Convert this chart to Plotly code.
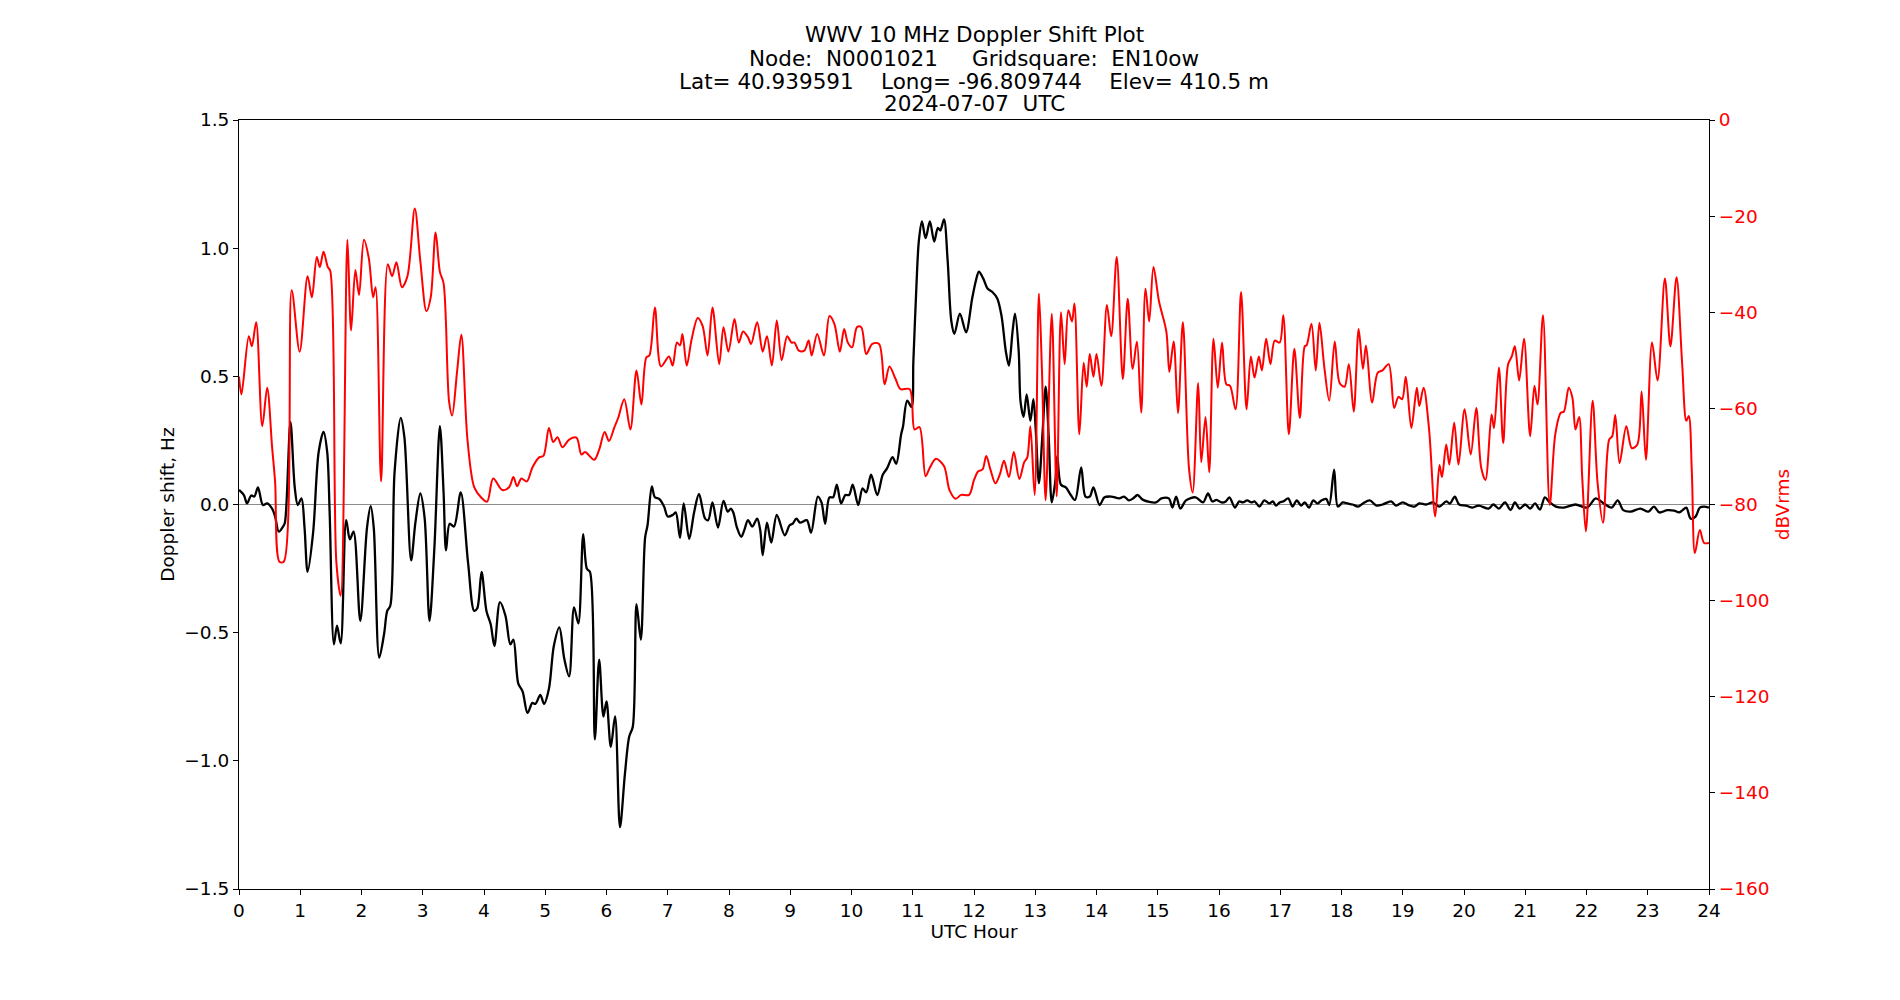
import plotly.graph_objects as go

# ---------------- data ----------------
doppler_hour = [
    0.00, 0.08, 0.13, 0.20, 0.25, 0.31, 0.39, 0.46, 0.54, 0.59, 0.65, 0.72, 0.75, 0.84, 0.91, 0.96,
    1.02, 1.07, 1.12, 1.21, 1.30, 1.38, 1.44, 1.48, 1.55, 1.60, 1.66, 1.75, 1.81, 1.87, 1.98,
    2.09, 2.15, 2.20, 2.29, 2.37, 2.42, 2.47, 2.54, 2.64, 2.70, 2.81, 2.88, 2.96,
    3.03, 3.11, 3.19, 3.28, 3.34, 3.38, 3.44, 3.51, 3.62, 3.74, 3.84, 3.89, 3.96,
    4.04, 4.11, 4.17, 4.26, 4.35, 4.43, 4.48, 4.56, 4.63, 4.71, 4.79, 4.84, 4.92, 4.98,
    5.06, 5.14, 5.23, 5.31, 5.39, 5.47, 5.54, 5.62, 5.68, 5.73, 5.81, 5.88, 5.95,
    6.00, 6.07, 6.14, 6.22, 6.30, 6.37, 6.43, 6.49, 6.56, 6.63, 6.67, 6.74, 6.79, 6.86, 6.94,
    7.00, 7.08, 7.13, 7.20, 7.26, 7.35, 7.43, 7.51, 7.61, 7.66, 7.73, 7.82, 7.91, 7.98,
    8.03, 8.07, 8.13, 8.20, 8.25, 8.31, 8.38, 8.46, 8.51, 8.55, 8.62, 8.69, 8.78, 8.91, 8.99,
    9.04, 9.10, 9.16, 9.27, 9.34, 9.45, 9.51, 9.57, 9.64, 9.70, 9.76, 9.83, 9.90, 9.96,
    10.02, 10.11, 10.18, 10.24, 10.32, 10.42, 10.51, 10.58, 10.67, 10.73, 10.81, 10.84, 10.91, 10.98,
    11.01, 11.06, 11.10, 11.15, 11.21, 11.28, 11.35, 11.41, 11.45, 11.51, 11.57, 11.63, 11.68, 11.77, 11.87, 11.97,
    12.03, 12.08, 12.15, 12.22, 12.30, 12.38, 12.45, 12.52, 12.57, 12.63, 12.67, 12.73, 12.76, 12.81, 12.86, 12.92, 12.97,
    13.01, 13.06, 13.12, 13.17, 13.22, 13.27, 13.33, 13.36, 13.42, 13.50, 13.58, 13.65, 13.75, 13.82, 13.89, 13.95,
    14.05, 14.13, 14.24, 14.37, 14.45, 14.53, 14.60, 14.67, 14.76, 14.97,
    15.06, 15.18, 15.24, 15.30, 15.37, 15.46, 15.62, 15.74, 15.82, 15.89, 15.96,
    16.04, 16.11, 16.17, 16.26, 16.33, 16.39, 16.46, 16.53, 16.58, 16.66, 16.74, 16.82, 16.88, 16.93, 16.99,
    17.05, 17.13, 17.20, 17.27, 17.34, 17.40, 17.47, 17.54, 17.61, 17.67, 17.75, 17.80, 17.88, 17.94,
    18.02, 18.10, 18.18, 18.27, 18.35, 18.46, 18.57, 18.67, 18.81, 18.89,
    19.00, 19.11, 19.19, 19.27, 19.38, 19.49, 19.60, 19.71, 19.77, 19.85, 19.92,
    20.03, 20.14, 20.24, 20.40, 20.48, 20.57, 20.67, 20.76, 20.83, 20.91,
    21.00, 21.08, 21.16, 21.24, 21.32, 21.40, 21.50, 21.63, 21.82,
    22.01, 22.15, 22.26, 22.41, 22.51, 22.60, 22.72, 22.88,
    23.01, 23.10, 23.19, 23.32, 23.43, 23.51, 23.56, 23.63, 23.70, 23.78, 23.85, 23.92, 24.00,
]
doppler_hz = [
    0.057, 0.037, 0.004, 0.035, 0.031, 0.067, -0.002, 0.004, -0.016, -0.047, -0.106, -0.086, -0.070, 0.322, 0.067, -0.002,
    0.024, -0.090, -0.263, -0.110, 0.204, 0.283, 0.204, -0.031, -0.546, -0.473, -0.542, -0.061, -0.136, -0.106, -0.454,
    -0.090, -0.006, -0.090, -0.597, -0.503, -0.415, -0.395, 0.126, 0.338, 0.263, -0.218, -0.071, 0.043,
    -0.051, -0.454, -0.169, 0.306, 0.047, -0.179, -0.075, -0.086, 0.047, -0.228, -0.415, -0.405, -0.263,
    -0.415, -0.468, -0.552, -0.381, -0.434, -0.546, -0.527, -0.699, -0.729, -0.813, -0.774, -0.778, -0.743, -0.778,
    -0.719, -0.552, -0.479, -0.601, -0.670, -0.401, -0.464, -0.116, -0.251, -0.263, -0.916, -0.605, -0.827,
    -0.768, -0.945, -0.827, -1.259, -1.053, -0.906, -0.866, -0.389, -0.527, -0.130, -0.081, 0.071, 0.028, 0.022, -0.008,
    -0.047, -0.041, -0.031, -0.130, 0.004, -0.134, -0.031, 0.041, -0.055, -0.061, 0.008, -0.090, 0.014, -0.028,
    -0.016, -0.031, -0.090, -0.126, -0.100, -0.061, -0.086, -0.055, -0.100, -0.198, -0.071, -0.149, -0.041, -0.120, -0.081,
    -0.075, -0.055, -0.071, -0.061, -0.110, 0.031, 0.008, -0.075, 0.028, 0.028, 0.077, 0.004, 0.037, 0.037,
    0.077, -0.002, 0.063, 0.047, 0.116, 0.037, 0.116, 0.141, 0.185, 0.159, 0.273, 0.303, 0.405, 0.381,
    0.558, 0.853, 1.029, 1.104, 1.039, 1.104, 1.026, 1.079, 1.069, 1.112, 0.951, 0.715, 0.666, 0.745, 0.672, 0.804,
    0.872, 0.908, 0.882, 0.843, 0.829, 0.804, 0.735, 0.597, 0.542, 0.676, 0.745, 0.597, 0.401, 0.342, 0.430, 0.326, 0.411,
    0.283, 0.083, 0.283, 0.460, 0.263, 0.008, 0.096, 0.189, 0.077, 0.067, 0.037, 0.018, 0.145, 0.031, 0.031, 0.067,
    -0.002, 0.028, 0.031, 0.024, 0.031, 0.016, 0.024, 0.037, 0.018, 0.008,
    0.024, 0.024, -0.012, 0.031, -0.016, 0.016, 0.028, 0.008, 0.043, 0.012, 0.018,
    0.008, 0.012, 0.028, -0.012, 0.012, 0.008, 0.016, 0.008, 0.012, -0.008, 0.016, 0.004, 0.012, -0.004, 0.008,
    0.012, 0.024, -0.008, 0.016, -0.004, 0.008, -0.012, 0.016, 0.004, 0.016, 0.022, -0.002, 0.136, -0.008,
    0.008, 0.004, 0.000, -0.008, 0.004, 0.016, -0.004, 0.000, 0.012, -0.004,
    0.008, -0.004, -0.008, 0.004, 0.000, 0.008, -0.008, 0.012, 0.004, 0.031, 0.000,
    -0.004, -0.012, -0.004, -0.016, 0.000, -0.016, 0.008, -0.022, 0.008, -0.016,
    0.000, -0.016, 0.004, -0.020, 0.028, 0.008, -0.008, -0.012, 0.000,
    -0.012, 0.024, 0.008, -0.012, 0.016, -0.022, -0.028, -0.016,
    -0.028, -0.008, -0.031, -0.022, -0.024, -0.031, -0.024, -0.012, -0.055, -0.047, -0.012, -0.008, -0.012,
]

power_hour = [
    0.00, 0.04, 0.16, 0.21, 0.28, 0.38, 0.46, 0.54, 0.59, 0.66, 0.73, 0.86, 0.99,
    1.12, 1.19, 1.27, 1.32, 1.38, 1.45, 1.49, 1.59, 1.66, 1.77, 1.83, 1.90, 1.96,
    2.04, 2.12, 2.19, 2.23, 2.32, 2.43, 2.50, 2.57, 2.66, 2.75, 2.87, 2.96,
    3.06, 3.13, 3.21, 3.28, 3.34, 3.43, 3.48, 3.56, 3.63, 3.73, 3.84, 3.95,
    4.05, 4.15, 4.30, 4.41, 4.48, 4.54, 4.61, 4.70, 4.79, 4.90, 4.97,
    5.06, 5.13, 5.20, 5.28, 5.39, 5.51, 5.59, 5.65, 5.80, 5.88, 5.97,
    6.04, 6.13, 6.19, 6.29, 6.39, 6.49, 6.57, 6.65, 6.70, 6.79, 6.89,
    7.02, 7.08, 7.15, 7.20, 7.24, 7.31, 7.39, 7.49, 7.57, 7.65, 7.73, 7.84, 7.91, 7.99,
    8.09, 8.16, 8.23, 8.31, 8.36, 8.46, 8.55, 8.62, 8.70, 8.78, 8.86, 8.95,
    9.02, 9.07, 9.14, 9.23, 9.30, 9.35, 9.44, 9.55, 9.64, 9.72, 9.81, 9.88, 9.94,
    10.01, 10.09, 10.16, 10.24, 10.34, 10.45, 10.54, 10.62, 10.72, 10.80, 10.95,
    11.03, 11.11, 11.21, 11.28, 11.38, 11.51, 11.60, 11.70, 11.79, 11.92,
    12.00, 12.07, 12.14, 12.20, 12.27, 12.35, 12.42, 12.49, 12.57, 12.65, 12.74, 12.82, 12.87, 12.92, 12.99,
    13.06, 13.11, 13.17, 13.27, 13.35, 13.42, 13.48, 13.54, 13.60, 13.64, 13.72, 13.79, 13.84, 13.89, 13.95,
    14.00, 14.08, 14.17, 14.24, 14.33, 14.43, 14.51, 14.59, 14.66, 14.73, 14.80, 14.86, 14.93,
    15.02, 15.14, 15.19, 15.26, 15.33, 15.41, 15.51, 15.57, 15.66, 15.71, 15.78, 15.84, 15.91, 15.98,
    16.05, 16.12, 16.18, 16.27, 16.36, 16.45, 16.52, 16.58, 16.65, 16.70, 16.77, 16.84, 16.91, 16.99,
    17.05, 17.14, 17.23, 17.32, 17.40, 17.43, 17.51, 17.58, 17.64, 17.72, 17.80, 17.89, 17.97,
    18.05, 18.12, 18.20, 18.28, 18.35, 18.40, 18.50, 18.59, 18.67, 18.77, 18.86, 18.93, 18.99,
    19.05, 19.14, 19.23, 19.27, 19.34, 19.43, 19.53, 19.60, 19.64, 19.71, 19.76, 19.84, 19.91,
    20.01, 20.11, 20.20, 20.28, 20.35, 20.45, 20.49, 20.57, 20.64, 20.72, 20.78, 20.83, 20.90, 20.98,
    21.08, 21.15, 21.20, 21.29, 21.40, 21.49, 21.58, 21.63, 21.71, 21.77, 21.82, 21.88, 21.93, 21.99,
    22.10, 22.18, 22.27, 22.37, 22.42, 22.47, 22.54, 22.65, 22.74, 22.83, 22.90, 22.97,
    23.07, 23.16, 23.28, 23.37, 23.47, 23.56, 23.63, 23.67, 23.72, 23.77, 23.85, 23.92, 24.00,
]
power_dbv = [
    -53.4, -57.1, -45.0, -47.1, -42.1, -63.7, -55.7, -68.0, -75.4, -91.9, -91.9, -35.4, -48.2,
    -32.5, -36.9, -28.5, -30.6, -27.4, -30.6, -31.4, -92.1, -99.0, -24.9, -43.8, -31.2, -36.4,
    -24.9, -28.8, -36.9, -34.8, -75.2, -30.0, -32.5, -29.6, -34.8, -32.5, -18.4, -29.3,
    -39.8, -36.9, -23.4, -31.6, -34.0, -58.6, -61.5, -52.4, -44.7, -66.5, -76.4, -78.5,
    -79.4, -74.6, -77.0, -76.4, -74.3, -76.2, -74.6, -75.2, -72.3, -70.2, -69.9,
    -64.1, -67.0, -66.0, -68.1, -66.5, -66.1, -69.6, -69.1, -70.7, -68.6, -64.9,
    -66.8, -63.9, -62.0, -58.1, -64.4, -52.1, -59.2, -49.4, -49.0, -39.0, -51.3,
    -49.2, -51.1, -46.3, -46.9, -44.5, -51.1, -45.6, -41.2, -42.9, -49.0, -39.0, -50.8, -43.1, -48.2,
    -41.4, -46.3, -44.0, -45.2, -46.6, -42.1, -48.2, -45.0, -51.1, -41.7, -50.0, -45.0,
    -46.3, -46.3, -48.0, -48.0, -45.9, -49.0, -44.5, -49.0, -40.8, -42.4, -48.2, -43.5, -46.3,
    -47.3, -43.1, -43.1, -48.7, -46.6, -46.6, -55.0, -51.3, -53.9, -56.0, -56.0,
    -64.4, -63.9, -74.1, -72.3, -70.5, -72.0, -77.0, -78.8, -78.0, -78.0,
    -74.9, -73.1, -72.7, -69.9, -72.8, -75.6, -73.8, -70.9, -74.3, -69.1, -74.7, -71.2, -70.2, -63.7, -78.0,
    -36.1, -52.4, -79.1, -40.3, -78.3, -40.0, -50.8, -39.6, -41.9, -38.2, -65.4, -50.5, -55.5, -48.7, -53.4,
    -48.7, -55.3, -38.5, -45.0, -28.5, -53.9, -37.2, -51.8, -46.1, -60.9, -35.1, -41.9, -30.6,
    -37.7, -44.0, -52.4, -46.1, -61.0, -42.1, -72.5, -77.5, -54.7, -71.2, -61.8, -73.3, -45.5, -55.7,
    -46.3, -55.0, -55.3, -60.2, -35.8, -60.2, -49.2, -53.6, -49.2, -52.1, -45.5, -50.8, -45.9, -46.3,
    -40.6, -65.4, -47.6, -62.0, -47.1, -46.9, -42.4, -52.1, -42.2, -51.5, -58.4, -46.1, -54.7,
    -55.5, -50.8, -60.7, -43.5, -51.8, -46.9, -58.8, -52.6, -52.1, -50.8, -59.9, -57.6, -58.1,
    -53.4, -64.1, -55.7, -59.5, -55.7, -64.4, -82.5, -71.8, -74.3, -67.5, -71.7, -63.0, -71.7,
    -60.2, -69.6, -59.9, -72.3, -74.9, -61.3, -64.1, -51.5, -67.2, -50.8, -49.2, -47.1, -54.2, -45.5,
    -65.8, -55.3, -59.2, -40.6, -80.1, -65.4, -60.9, -60.7, -55.7, -57.8, -64.4, -61.8, -74.3, -85.6,
    -58.4, -75.4, -83.8, -66.5, -65.8, -61.4, -71.4, -63.7, -68.3, -67.5, -56.5, -70.7,
    -46.3, -54.2, -33.0, -47.1, -32.7, -50.3, -62.6, -61.6, -73.3, -90.1, -85.3, -88.0, -88.0,
]

x_ticks = list(range(0, 25))
title_lines = [
    "WWV 10 MHz Doppler Shift Plot",
    "Node:  N0001021     Gridsquare:  EN10ow",
    "Lat= 40.939591    Long= -96.809744    Elev= 410.5 m",
    "2024-07-07  UTC",
]

# ---------------- figure ----------------
FONT = "DejaVu Sans"
W, H = 1900, 1000
ML, MR, MT, MB = 239, 191, 120, 111
PLOT_H = H - MT - MB
TICK_SIZE = 18.5
TITLE_SIZE = 21.5

fig = go.Figure()

fig.add_trace(go.Scatter(
    x=doppler_hour, y=doppler_hz, mode="lines",
    line=dict(color="#000000", width=2.3, shape="spline", smoothing=0.9),
    yaxis="y", showlegend=False, hoverinfo="skip",
))
fig.add_trace(go.Scatter(
    x=power_hour, y=power_dbv, mode="lines",
    line=dict(color="#ff0000", width=2.0, shape="spline", smoothing=0.9),
    yaxis="y2", showlegend=False, hoverinfo="skip",
))

# zero reference line
fig.add_shape(type="line", xref="paper", x0=0, x1=1, yref="y", y0=0, y1=0,
              line=dict(color="#8c8c8c", width=1.2), layer="below")

# multi-line title, one annotation per line (pixel centres 35, 58, 81, 104)
for i, line in enumerate(title_lines):
    yc = 35 + 23 * i
    fig.add_annotation(
        text=line.replace(" ", "\u00a0"), showarrow=False,
        xref="paper", x=0.5, xanchor="center",
        yref="paper", y=(H - MB - yc) / PLOT_H, yanchor="middle",
        font=dict(family=FONT, size=TITLE_SIZE, color="black"),
    )

fig.update_layout(
    width=W, height=H,
    paper_bgcolor="white", plot_bgcolor="white",
    margin=dict(l=ML, r=MR, t=MT, b=MB),
    font=dict(family=FONT, size=TICK_SIZE, color="black"),
    xaxis=dict(
        range=[0, 24], tickmode="array", tickvals=x_ticks, ticktext=[str(t) for t in x_ticks],
        showline=True, linecolor="black", linewidth=1, mirror=True,
        ticks="outside", ticklen=5, tickwidth=1, tickcolor="black",
        showgrid=False, zeroline=False,
        title=dict(text="UTC Hour", standoff=4, font=dict(size=TICK_SIZE)),
        tickfont=dict(size=TICK_SIZE),
    ),
    yaxis=dict(
        range=[-1.5, 1.5], dtick=0.5, tick0=0, tickformat=".1f",
        showline=True, linecolor="black", linewidth=1,
        ticks="outside", ticklen=5, tickwidth=1, tickcolor="black",
        showgrid=False, zeroline=False,
        title=dict(text="Doppler shift, Hz", standoff=4, font=dict(size=TICK_SIZE)),
        tickfont=dict(size=TICK_SIZE),
    ),
    yaxis2=dict(
        range=[-160, 0], dtick=20, tick0=0, overlaying="y", side="right",
        showline=True, linecolor="black", linewidth=1,
        ticks="outside", ticklen=5, tickwidth=1, tickcolor="black",
        showgrid=False, zeroline=False,
        title=dict(text="dBVrms", standoff=7, font=dict(size=TICK_SIZE, color="red")),
        tickfont=dict(size=TICK_SIZE, color="red"),
    ),
)

fig.write_html("out.html")
